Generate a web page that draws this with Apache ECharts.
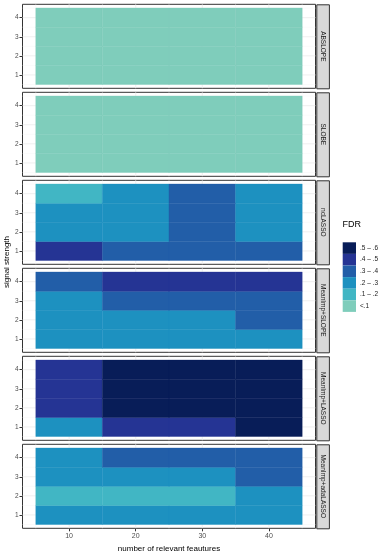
<!DOCTYPE html>
<html>
<head>
<meta charset="utf-8">
<script src="https://cdn.jsdelivr.net/npm/echarts@6/dist/echarts.min.js"></script>
<style>
  html, body { margin: 0; padding: 0; background: #fff; }
  #chart { width: 388px; height: 554px; }
</style>
</head>
<body>
<div id="chart"></div>
<script>
// facets (top to bottom)
var methods = ['ABSLOPE', 'SLOBE', 'ncLASSO', 'MeanImp+SLOPE', 'MeanImp+LASSO', 'MeanImp+adaLASSO']
var features = [10, 20, 30, 40]
var signals = [1, 2, 3, 4]
// FDR classes: 0 '<.1' ... 5 '.5 - .6'
var fdrLabels = ['<.1', '.1 – .2', '.2 – .3', '.3 – .4', '.4 – .5', '.5 – .6']
var fdrColors = ['#7fcdbb', '#41b6c4', '#1d91c0', '#225ea8', '#253494', '#081d58']

// rows = signal strength 1..4, columns = features 10..40
var fdrABSLOPE = [[0, 0, 0, 0], [0, 0, 0, 0], [0, 0, 0, 0], [0, 0, 0, 0]]
var fdrSLOBE = [[0, 0, 0, 0], [0, 0, 0, 0], [0, 0, 0, 0], [0, 0, 0, 0]]
var fdrNcLASSO = [[4, 3, 3, 3], [2, 2, 3, 2], [2, 2, 3, 2], [1, 2, 3, 2]]
var fdrMeanImpSLOPE = [[2, 2, 2, 2], [2, 2, 2, 3], [2, 3, 3, 3], [3, 4, 4, 4]]
var fdrMeanImpLASSO = [[2, 4, 4, 5], [4, 5, 5, 5], [4, 5, 5, 5], [4, 5, 5, 5]]
var fdrMeanImpAdaLASSO = [[2, 2, 2, 2], [1, 1, 1, 2], [2, 2, 2, 3], [2, 3, 3, 3]]
var fdrAll = [fdrABSLOPE, fdrSLOBE, fdrNcLASSO, fdrMeanImpSLOPE, fdrMeanImpLASSO, fdrMeanImpAdaLASSO]

var xMajor = [10, 20, 30, 40]
var xMinor = [5, 15, 25, 35, 45]
var yMajor = [1, 2, 3, 4]
var yMinor = [0.5, 1.5, 2.5, 3.5, 4.5]

var font = 'Liberation Sans, Arial, sans-serif'
var panelLeft = 22.5
var panelWidth = 293
var panelHeight = 84
var panelTop0 = 4.3
var panelStep = 88

var chart = echarts.init(document.getElementById('chart'))

var grids = [], xAxes = [], yAxes = [], series = [], graphics = []
var tileSeries = []

methods.forEach(function (m, i) {
  var top = panelTop0 + i * panelStep
  var last = i === methods.length - 1
  grids.push({
    left: panelLeft, top: top, width: panelWidth, height: panelHeight,
    show: true, backgroundColor: '#fff', borderColor: '#333', borderWidth: 1
  })
  xAxes.push({
    type: 'value', gridIndex: i, min: 3, max: 47,
    axisLine: { show: false },
    axisTick: { show: last, customValues: xMajor, length: 3, lineStyle: { color: '#333', width: 1 } },
    axisLabel: { show: last, customValues: xMajor, color: '#4d4d4d', fontSize: 7, fontFamily: font, margin: 4 },
    splitLine: { show: false },
    name: last ? 'number of relevant feautures' : '',
    nameLocation: 'middle', nameGap: 16,
    nameTextStyle: { color: '#000', fontSize: 8, fontFamily: font }
  })
  yAxes.push({
    type: 'value', gridIndex: i, min: 0.3, max: 4.7,
    axisLine: { show: false },
    axisTick: { show: true, customValues: yMajor, length: 3, lineStyle: { color: '#333', width: 1 } },
    axisLabel: { show: true, customValues: yMajor, color: '#4d4d4d', fontSize: 6.5, fontFamily: font, margin: 4 },
    splitLine: { show: false }
  })

  // background grid lines
  var lines = []
  xMajor.forEach(function (v) { lines.push([v, 1, 1]) })
  xMinor.forEach(function (v) { lines.push([v, 1, 0]) })
  yMajor.forEach(function (v) { lines.push([v, 0, 1]) })
  yMinor.forEach(function (v) { lines.push([v, 0, 0]) })
  series.push({
    type: 'custom', xAxisIndex: i, yAxisIndex: i, silent: true, z: 1,
    data: lines,
    renderItem: function (params, api) {
      var v = api.value(0), vertical = api.value(1), major = api.value(2)
      var p1 = vertical ? api.coord([v, 0.3]) : api.coord([3, v])
      var p2 = vertical ? api.coord([v, 4.7]) : api.coord([47, v])
      return {
        type: 'line',
        shape: { x1: p1[0], y1: p1[1], x2: p2[0], y2: p2[1] },
        style: { stroke: major ? '#ebebeb' : '#f4f4f4', lineWidth: major ? 0.8 : 0.5 }
      }
    }
  })

  // tiles
  var tiles = []
  fdrAll[i].forEach(function (row, r) {
    row.forEach(function (cls, c) {
      tiles.push([features[c], signals[r], cls])
    })
  })
  tileSeries.push(series.length)
  series.push({
    type: 'custom', xAxisIndex: i, yAxisIndex: i, silent: true, z: 2,
    data: tiles,
    renderItem: function (params, api) {
      var x = api.value(0), y = api.value(1)
      var a = api.coord([x - 5, y + 0.5])
      var b = api.coord([x + 5, y - 0.5])
      var col = api.visual('color')
      return {
        type: 'rect',
        shape: { x: a[0], y: a[1], width: b[0] - a[0], height: b[1] - a[1] },
        style: { fill: col, stroke: col, lineWidth: 0.4 }
      }
    }
  })

  // facet strip
  graphics.push({
    type: 'rect', left: 316.3, top: top,
    shape: { width: 12.6, height: panelHeight },
    style: { fill: '#d9d9d9', stroke: '#333', lineWidth: 1 }
  })
  graphics.push({
    type: 'text', x: 322.6, y: top + panelHeight / 2, rotation: -Math.PI / 2,
    style: { text: m, fill: '#1a1a1a', fontSize: 6.5, fontFamily: font, align: 'center', verticalAlign: 'middle' }
  })
})

graphics.push({
  type: 'text', x: 6.5, y: 262, rotation: Math.PI / 2,
  style: { text: 'signal strength', fill: '#000', fontSize: 8, fontFamily: font, align: 'center', verticalAlign: 'middle' }
})
graphics.push({
  type: 'text', left: 342.5, top: 220,
  style: { text: 'FDR', fill: '#000', fontSize: 9, fontFamily: font }
})

var option = {
  animation: false,
  grid: grids,
  xAxis: xAxes,
  yAxis: yAxes,
  visualMap: {
    type: 'piecewise',
    seriesIndex: tileSeries,
    dimension: 2,
    orient: 'vertical',
    align: 'left',
    left: 342.7, top: 242.3,
    padding: 0,
    itemWidth: 13.3, itemHeight: 11.6, itemGap: 0, itemSymbol: 'rect',
    textGap: 4,
    selectedMode: false,
    textStyle: { color: '#1a1a1a', fontSize: 6.5, fontFamily: font },
    pieces: fdrLabels.map(function (l, k) { return { value: k, label: l, color: fdrColors[k] } })
  },
  series: series,
  graphic: graphics
}

chart.setOption(option)
</script>
</body>
</html>
